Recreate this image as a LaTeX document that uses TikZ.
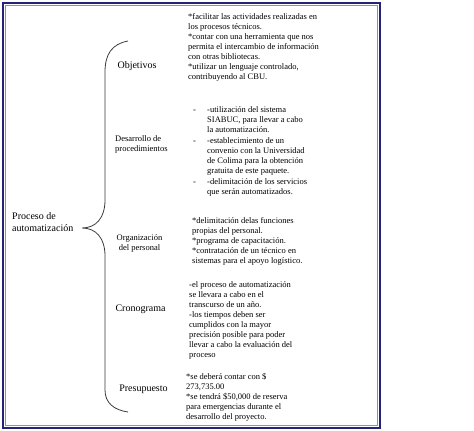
\documentclass[tikz,border=0pt]{standalone}
\usepackage{fontspec}
\setmainfont{Liberation Serif}
\usepackage{tikz}
\usepackage{xcolor}
\definecolor{framedark}{HTML}{23237A}
\definecolor{framelight}{HTML}{8A8AD2}
\definecolor{bracegray}{HTML}{3A3A3A}
\tikzset{
    branch-label/.style = {inner sep=0pt, align=center, font=\fontsize{10}{12}\selectfont},
    branch-label-small/.style = {branch-label, font=\fontsize{8.5}{10}\selectfont},
    branch-text/.style = {inner sep=0pt, anchor=north west, align=left, font=\fontsize{8.5}{10}\selectfont},
    brace-line/.style = {draw=bracegray, line width=0.8pt},
}
\newcommand{\listdash}{\makebox[14pt][l]{-}}
\newcommand{\listgap}{\hspace*{14pt}}

\begin{document}
\begin{tikzpicture}[x=1pt,y=-1pt]
\useasboundingbox (0,0) rectangle (474,431);
\draw[framedark, line width=2pt] (3,3) rectangle (380,428);
\draw[framelight, line width=1.2pt] (5.5,5.5) rectangle (377.5,425.5);

\node[branch-label, align=left, anchor=west] (root) at (12,222.5) {Proceso de\\automatización};

\coordinate (brace-top) at (128,41);
\coordinate (brace-tip) at (82,228);
\coordinate (brace-bot) at (128,412);
\draw[brace-line] (brace-top) .. controls (112,44) and (105,54) .. (105,72) -- (105,200)
    .. controls (105,218) and (96,228) .. (brace-tip)
    .. controls (96,228) and (105,238) .. (105,256) -- (105,390)
    .. controls (105,403) and (114,410) .. (brace-bot);

\node[branch-label] (obj) at (137,66) {Objetivos};
\node[branch-label-small, align=left, anchor=west] (des) at (115,144) {Desarrollo de\\procedimientos};
\node[branch-label-small] (org) at (139.5,243) {Organización\\del personal};
\node[branch-label] (cro) at (140.5,309) {Cronograma};
\node[branch-label] (pre) at (143.5,389) {Presupuesto};

\node[branch-text] (obj-text) at (188,13) {*facilitar las actividades realizadas en\\
    los procesos técnicos.\\
    *contar con una herramienta que nos\\
    permita el intercambio de información\\
    con otras bibliotecas.\\
    *utilizar un lenguaje controlado,\\
    contribuyendo al CBU.};
\node[branch-text] (des-text) at (193,106.5) {\listdash-utilización del sistema\\
    \listgap SIABUC, para llevar a cabo\\
    \listgap la automatización.\\[1pt]
    \listdash-establecimiento de un\\
    \listgap convenio con la Universidad\\
    \listgap de Colima para la obtención\\
    \listgap gratuita de este paquete.\\[1pt]
    \listdash-delimitación de los servicios\\
    \listgap que serán automatizados.};
\node[branch-text] (org-text) at (192,217.5) {*delimitación delas funciones\\
    propias del personal.\\
    *programa de capacitación.\\
    *contratación de un técnico en\\
    sistemas para el apoyo logístico.};
\node[branch-text] (cro-text) at (189,281.5) {-el proceso de automatización\\
    se llevara a cabo en el\\
    transcurso de un año.\\
    -los tiempos deben ser\\
    cumplidos con la mayor\\
    precisión posible para poder\\
    llevar a cabo la evaluación del\\
    proceso};
\node[branch-text] (pre-text) at (186,373.5) {*se deberá contar con \$\\
    273,735.00\\
    *se tendrá \$50,000 de reserva\\
    para emergencias durante el\\
    desarrollo del proyecto.};
\end{tikzpicture}
\end{document}
